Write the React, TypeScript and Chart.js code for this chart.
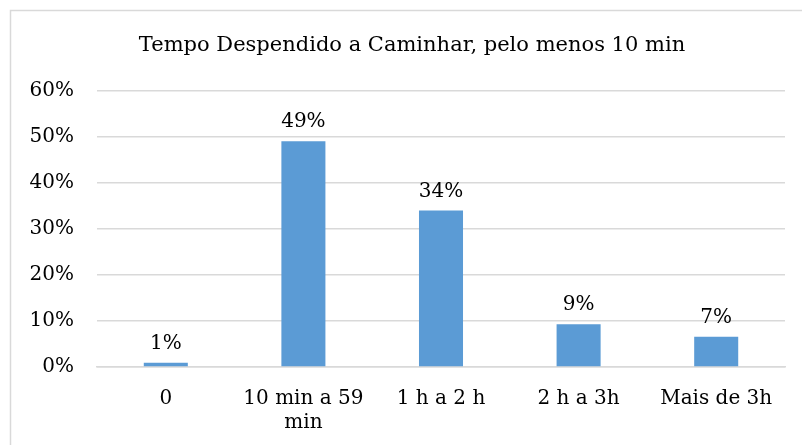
import React, { useEffect, useRef } from "react";
import { Chart, registerables } from "chart.js";

Chart.register(...registerables);

const TITLE = "Tempo Despendido a Caminhar, pelo menos 10 min";
const categories: (string | string[])[] = ["0", ["10 min a 59", "min"], "1 h a 2 h", "2 h a 3h", "Mais de 3h"];
const values = [0.9, 49.1, 34, 9.3, 6.6];
const yTicks = [0, 10, 20, 30, 40, 50, 60];

const FONT = "'DejaVu Serif', 'Liberation Serif', serif";

const borderPlugin = {
  id: "outerBorder",
  beforeDraw(chart: any) {
    const ctx = chart.ctx;
    ctx.save();
    ctx.strokeStyle = "#d9d9d9";
    ctx.lineWidth = 1.5;
    ctx.beginPath();
    ctx.moveTo(10.5, chart.height);
    ctx.lineTo(10.5, 10.5);
    ctx.lineTo(chart.width, 10.5);
    ctx.stroke();
    ctx.restore();
  },
};

const titlePlugin = {
  id: "customTitle",
  afterDraw(chart: any) {
    const ctx = chart.ctx;
    ctx.save();
    ctx.font = `21px ${FONT}`;
    ctx.fillStyle = "#000";
    ctx.textAlign = "center";
    ctx.textBaseline = "middle";
    ctx.fillText(TITLE, (39 + chart.chartArea.right) / 2, 46);
    ctx.restore();
  },
};

const labelPlugin = {
  id: "barLabels",
  afterDatasetsDraw(chart: any) {
    const ctx = chart.ctx;
    const meta = chart.getDatasetMeta(0);
    ctx.save();
    ctx.font = `20px ${FONT}`;
    ctx.fillStyle = "#000";
    ctx.textAlign = "center";
    ctx.textBaseline = "alphabetic";
    meta.data.forEach((bar: any, i: number) => {
      ctx.fillText(`${Math.round(values[i])}%`, bar.x, bar.y - 14);
    });
    ctx.restore();
  },
};

export default function App() {
  const ref = useRef<HTMLCanvasElement>(null);
  useEffect(() => {
    document.body.style.margin = "0";
    const chart = new Chart(ref.current!, {
      type: "bar",
      data: {
        labels: categories,
        datasets: [
          {
            data: values,
            backgroundColor: "#5b9bd5",
            barPercentage: 0.32,
            categoryPercentage: 1,
          },
        ],
      },
      options: {
        animation: false,
        responsive: false,
        layout: { padding: { left: 12, right: 17, top: 91, bottom: 0 } },
        plugins: {
          legend: { display: false },
          tooltip: { enabled: false },
          title: { display: false },
        },
        scales: {
          x: {
            grid: { display: false, drawTicks: false },
            border: { color: "#d9d9d9", width: 1.5 },
            ticks: {
              color: "#000",
              font: { family: FONT, size: 20 },
              padding: 20,
              maxRotation: 0,
              autoSkip: false,
            },
            afterFit: (s: any) => {
              s.height = 78;
            },
          },
          y: {
            min: 0,
            max: 60,
            afterBuildTicks: (s: any) => {
              s.ticks = yTicks.map((v) => ({ value: v }));
            },
            grid: { color: "#d9d9d9", lineWidth: 1.5, drawTicks: false },
            border: { display: false },
            ticks: {
              color: "#000",
              font: { family: FONT, size: 20 },
              padding: 23,
              callback: (v: any) => `${v}%`,
            },
            afterFit: (s: any) => {
              s.width = 85;
            },
          },
        },
      },
      plugins: [borderPlugin, titlePlugin, labelPlugin],
    });
    return () => chart.destroy();
  }, []);
  return (
    <div style={{ width: 802, height: 445 }}>
      <canvas ref={ref} width={802} height={445} style={{ display: "block" }} />
    </div>
  );
}
